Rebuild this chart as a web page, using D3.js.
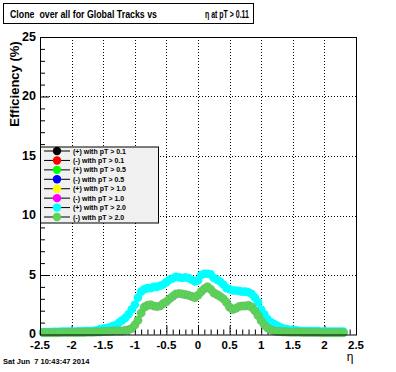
<!DOCTYPE html>
<html>
<head>
<meta charset="utf-8">
<script src="https://cdn.jsdelivr.net/npm/d3@7"></script>
<style>
  body { margin: 0; background: #fff; }
  svg { display: block; font-family: "Liberation Sans", Arial, sans-serif; font-weight: bold; }
</style>
</head>
<body>
<div id="chart"></div>
<script>
// eta bin centres
const etaBins = [
  -2.45, -2.40, -2.35, -2.30, -2.25, -2.20, -2.15, -2.10, -2.05, -2.00,
  -1.95, -1.90, -1.85, -1.80, -1.75, -1.70, -1.65, -1.60, -1.55, -1.50,
  -1.45, -1.40, -1.35, -1.30, -1.25, -1.20, -1.15, -1.10, -1.05, -1.00,
  -0.95, -0.90, -0.85, -0.80, -0.75, -0.70, -0.65, -0.60, -0.55, -0.50,
  -0.45, -0.40, -0.35, -0.30, -0.25, -0.20, -0.15, -0.10, -0.05, 0.00,
  0.05, 0.10, 0.15, 0.20, 0.25, 0.30, 0.35, 0.40, 0.45, 0.50,
  0.55, 0.60, 0.65, 0.70, 0.75, 0.80, 0.85, 0.90, 0.95, 1.00,
  1.05, 1.10, 1.15, 1.20, 1.25, 1.30, 1.35, 1.40, 1.45, 1.50,
  1.55, 1.60, 1.65, 1.70, 1.75, 1.80, 1.85, 1.90, 1.95, 2.00,
  2.05, 2.10, 2.15, 2.20, 2.25, 2.30
];

// (+) with pT > 2.0
const plusPt20 = [
  0.20, 0.20, 0.20, 0.22, 0.22, 0.22, 0.25, 0.25, 0.25, 0.25,
  0.25, 0.27, 0.27, 0.28, 0.30, 0.30, 0.32, 0.35, 0.45, 0.50,
  0.55, 0.60, 0.70, 0.80, 1.00, 1.20, 1.40, 1.70, 2.10, 2.50,
  3.10, 3.60, 3.80, 3.90, 3.90, 4.00, 4.00, 4.10, 4.20, 4.40,
  4.60, 4.70, 4.85, 4.80, 4.75, 4.80, 4.75, 4.60, 4.45, 4.55,
  5.00, 5.10, 5.10, 5.05, 4.75, 4.60, 4.45, 4.20, 3.90, 3.80,
  3.70, 3.70, 3.65, 3.60, 3.60, 3.55, 3.40, 3.10, 2.70, 2.10,
  1.70, 1.30, 1.05, 0.90, 0.75, 0.60, 0.50, 0.45, 0.40, 0.40,
  0.35, 0.32, 0.30, 0.30, 0.30, 0.30, 0.28, 0.28, 0.25, 0.25,
  0.25, 0.25, 0.25, 0.25, 0.25, 0.25
];

// (-) with pT > 2.0
const minusPt20 = [
  0.15, 0.15, 0.15, 0.15, 0.15, 0.15, 0.17, 0.17, 0.17, 0.17,
  0.17, 0.18, 0.18, 0.18, 0.20, 0.20, 0.20, 0.22, 0.22, 0.25,
  0.25, 0.27, 0.28, 0.30, 0.30, 0.30, 0.35, 0.40, 0.50, 0.80,
  1.20, 1.80, 2.30, 2.45, 2.50, 2.40, 2.35, 2.40, 2.60, 2.75,
  3.00, 3.20, 3.40, 3.45, 3.40, 3.35, 3.30, 3.20, 3.10, 3.30,
  3.60, 3.85, 4.00, 3.80, 3.50, 3.35, 3.20, 3.00, 2.70, 2.30,
  2.10, 2.20, 2.35, 2.40, 2.40, 2.45, 2.30, 2.00, 1.60, 1.15,
  0.80, 0.55, 0.40, 0.30, 0.25, 0.25, 0.22, 0.22, 0.20, 0.20,
  0.20, 0.20, 0.18, 0.18, 0.18, 0.17, 0.17, 0.17, 0.15, 0.15,
  0.15, 0.15, 0.15, 0.15, 0.15, 0.15
];

const legendLabels = [
  '(+) with pT > 0.1', '(-) with pT > 0.1',
  '(+) with pT > 0.5', '(-) with pT > 0.5',
  '(+) with pT > 1.0', '(-) with pT > 1.0',
  '(+) with pT > 2.0', '(-) with pT > 2.0'
];
const legendColors = ['#000000', '#ff0000', '#00ff00', '#0000ff', '#ffff00', '#ff00ff', '#00ffff', '#59d454'];

const xTicks = [-2.5, -2, -1.5, -1, -0.5, 0, 0.5, 1, 1.5, 2, 2.5];
const yTicks = [0, 5, 10, 15, 20, 25];

const W = 396, H = 372;
const margin = { top: 37, right: 40, bottom: 37.5, left: 40 };
const width = W - margin.left - margin.right;
const height = H - margin.top - margin.bottom;

const svg = d3.select('#chart').append('svg')
  .attr('width', W)
  .attr('height', H);

svg.append('rect').attr('width', W).attr('height', H).attr('fill', '#fff');

const x = d3.scaleLinear().domain([-2.5, 2.5]).range([0, width]);
const y = d3.scaleLinear().domain([0, 25]).range([height, 0]);

const g = svg.append('g')
  .attr('transform', `translate(${margin.left}, ${margin.top})`);

// Grid (dotted)
g.append('g')
  .selectAll('line')
  .data(xTicks.slice(1, -1))
  .enter()
  .append('line')
  .attr('x1', d => Math.round(x(d)) + 0.5)
  .attr('x2', d => Math.round(x(d)) + 0.5)
  .attr('y1', 0)
  .attr('y2', height)
  .attr('stroke', '#000')
  .attr('stroke-dasharray', '1,2');

g.append('g')
  .selectAll('line')
  .data(yTicks.slice(1, -1))
  .enter()
  .append('line')
  .attr('x1', 0)
  .attr('x2', width)
  .attr('y1', d => Math.round(y(d)) + 0.5)
  .attr('y2', d => Math.round(y(d)) + 0.5)
  .attr('stroke', '#000')
  .attr('stroke-dasharray', '1,2');

// Axes with ticks pointing inward
const xAxis = d3.axisTop(x)
  .tickValues(d3.range(-25, 26).map(d => d / 10))
  .tickSize(5)
  .tickFormat('');
const xAxisG = g.append('g')
  .attr('transform', `translate(0, ${height})`)
  .call(xAxis);
xAxisG.selectAll('.tick line')
  .attr('y2', d => (Math.abs(d * 2 - Math.round(d * 2)) < 1e-6 ? -9 : -5));

const yAxis = d3.axisRight(y)
  .tickValues(d3.range(0, 26))
  .tickSize(5)
  .tickFormat('');
const yAxisG = g.append('g').call(yAxis);
yAxisG.selectAll('.tick line')
  .attr('x2', d => (d % 5 === 0 ? 9 : 5));

[xAxisG, yAxisG].forEach(a => {
  a.select('.domain').remove();
  a.selectAll('.tick line').attr('stroke', '#000');
});

// Tick labels
g.append('g')
  .selectAll('text')
  .data(xTicks)
  .enter()
  .append('text')
  .attr('x', d => x(d))
  .attr('y', height + 14)
  .attr('text-anchor', 'middle')
  .attr('font-size', 11.5)
  .text(d => d);

g.append('g')
  .selectAll('text')
  .data(yTicks)
  .enter()
  .append('text')
  .attr('x', -4)
  .attr('y', d => y(d) + 3.5)
  .attr('text-anchor', 'end')
  .attr('font-size', 12.5)
  .text(d => d);

// Data markers
const series = [
  { values: plusPt20, color: legendColors[6] },
  { values: minusPt20, color: legendColors[7] },
];
series.forEach(s => {
  g.append('g')
    .selectAll('circle')
    .data(etaBins.map((e, i) => ({ eta: e, v: s.values[i] })))
    .enter()
    .append('circle')
    .attr('cx', d => x(d.eta))
    .attr('cy', d => y(d.v))
    .attr('r', 4.3)
    .attr('fill', s.color)
    .attr('stroke', s.color === '#59d454' ? 'rgba(140,120,160,0.35)' : 'none')
    .attr('stroke-width', 0.6);
});

// Frame
g.append('rect')
  .attr('x', 0.5)
  .attr('y', 0.5)
  .attr('width', width)
  .attr('height', height)
  .attr('fill', 'none')
  .attr('stroke', '#000');

// Legend
const legend = g.append('g').attr('transform', 'translate(0, 110)');
legend.append('rect')
  .attr('x', 0.5)
  .attr('y', 0)
  .attr('width', 118)
  .attr('height', 76)
  .attr('fill', '#f0f0f0')
  .attr('stroke', '#000');
legendLabels.forEach((label, i) => {
  const ly = 4 + i * 9.43;
  legend.append('line')
    .attr('x1', 4).attr('x2', 30)
    .attr('y1', ly).attr('y2', ly)
    .attr('stroke', '#000');
  legend.append('circle')
    .attr('cx', 17).attr('cy', ly).attr('r', 4.2)
    .attr('fill', legendColors[i]);
  legend.append('text')
    .attr('x', 33)
    .attr('y', ly + 2.5)
    .attr('font-size', 7)
    .text(label);
});

// Title box
svg.append('rect')
  .attr('x', 3.5).attr('y', 3.5)
  .attr('width', 250).attr('height', 20)
  .attr('fill', '#fff')
  .attr('stroke', '#000');
svg.append('text')
  .attr('x', 10).attr('y', 17.5)
  .attr('font-size', 10)
  .attr('textLength', 147)
  .attr('lengthAdjust', 'spacingAndGlyphs')
  .attr('xml:space', 'preserve')
  .text('Clone  over all for Global Tracks vs');
svg.append('text')
  .attr('x', 205).attr('y', 17.5)
  .attr('font-size', 10)
  .attr('textLength', 44)
  .attr('lengthAdjust', 'spacingAndGlyphs')
  .text('η at pT > 0.11');

// Axis titles
svg.append('text')
  .attr('transform', 'translate(19, 84) rotate(-90)')
  .attr('text-anchor', 'middle')
  .attr('font-size', 13)
  .text('Efficiency (%)');
svg.append('text')
  .attr('x', 350).attr('y', 361)
  .attr('text-anchor', 'middle')
  .attr('font-size', 12)
  .attr('font-weight', 'normal')
  .text('η');

// Date stamp
svg.append('text')
  .attr('x', 3).attr('y', 364)
  .attr('font-size', 7.5)
  .attr('xml:space', 'preserve')
  .text('Sat Jun  7 10:43:47 2014');
</script>
</body>
</html>
